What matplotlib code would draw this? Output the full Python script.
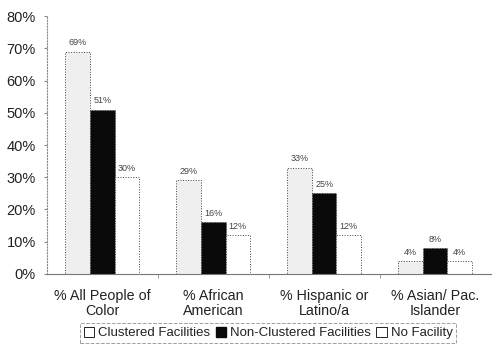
import numpy as np
import matplotlib.pyplot as plt
from matplotlib.patches import Patch

plt.rcParams['font.family'] = ['Liberation Sans', 'DejaVu Sans']

groups = ['% All People of\nColor', '% African\nAmerican', '% Hispanic or\nLatino/a', '% Asian/ Pac.\nIslander']
series = ['Clustered Facilities', 'Non-Clustered Facilities', 'No Facility']
clustered = [69, 29, 33, 4]
non_clustered = [51, 16, 25, 8]
no_facility = [30, 12, 12, 4]

fig = plt.figure(figsize=(4.93, 3.49), dpi=100)
ax = fig.add_axes([0.095, 0.215, 0.9, 0.739])

x = np.arange(len(groups))
w = 0.222
colors = ['#efefef', '#0a0a0a', 'white']
for i, (vals, col) in enumerate(zip([clustered, non_clustered, no_facility], colors)):
    pos = x + (i - 1) * w
    ax.bar(pos, vals, w, color=col, edgecolor='#444444', linewidth=0.7, linestyle=':')
    for p, v in zip(pos, vals):
        ax.text(p, v + 1.3, f'{v}%', ha='center', va='bottom', fontsize=6.5, color='#444444')

ax.set_xlim(-0.5, 3.5)
ax.set_ylim(0, 80)
ax.set_yticks(range(0, 81, 10))
ax.set_yticklabels([f'{v}%' for v in range(0, 81, 10)], fontsize=10.5, color='#222222')
ax.set_xticks(x)
ax.set_xticklabels(groups, fontsize=10.3, color='#222222', linespacing=1.1)
ax.tick_params(axis='x', length=0, pad=11)
ax.tick_params(axis='y', length=2, color='#888888', pad=6)
ax.set_xticks([0.5, 1.5, 2.5], minor=True)
ax.tick_params(axis='x', which='minor', length=3, color='#888888')

for s in ['top', 'right']:
    ax.spines[s].set_visible(False)
ax.spines['left'].set_linestyle(':')
ax.spines['left'].set_color('#888888')
ax.spines['bottom'].set_color('#777777')
ax.spines['bottom'].set_linewidth(0.8)

handles = [Patch(facecolor='white', edgecolor='#222222', linewidth=0.7),
           Patch(facecolor='#0a0a0a', edgecolor='#0a0a0a'),
           Patch(facecolor='white', edgecolor='#222222', linewidth=0.7)]
leg = fig.legend(handles, series, loc='center', bbox_to_anchor=(0.544, 0.046), ncol=3,
                 fontsize=9.5, handlelength=0.8, handleheight=0.8, handletextpad=0.3,
                 columnspacing=0.4, borderpad=0.25, fancybox=False, edgecolor='#888888')
leg.get_frame().set_linestyle('--')
leg.get_frame().set_linewidth(0.7)
for t in leg.get_texts():
    t.set_color('#222222')

fig.savefig('out.png', dpi=100)
